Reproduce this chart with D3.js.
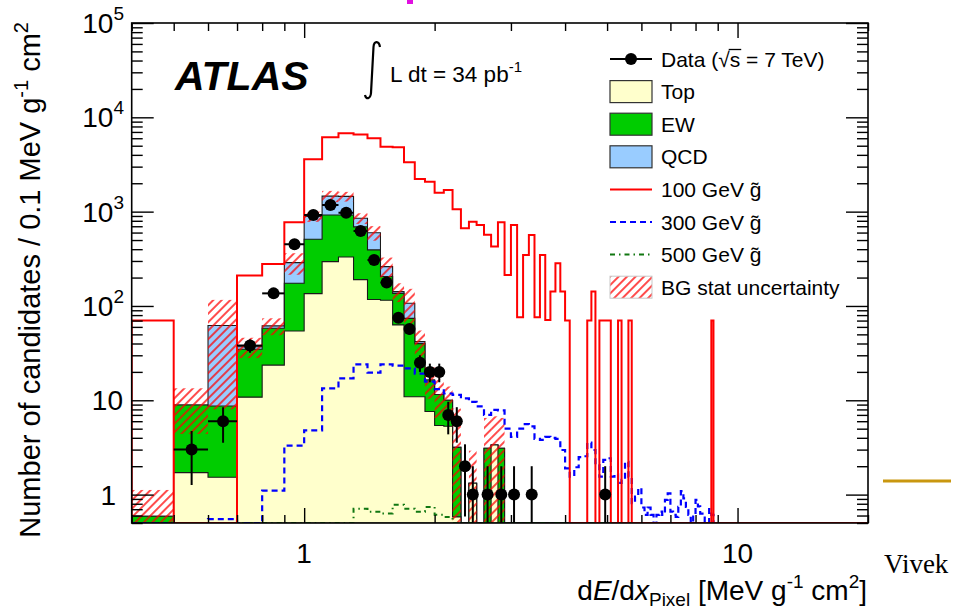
<!DOCTYPE html>
<html>
<head>
<meta charset="utf-8">
<script src="https://cdn.jsdelivr.net/npm/d3@7"></script>
<style>
  body { margin: 0; background: #fff; }
  text { font-family: "Liberation Sans", Arial, Helvetica, sans-serif; fill: #000; }
</style>
</head>
<body>
<svg id="chart" width="956" height="613"></svg>
<script>
// Histogram binning: 0.1 MeV g^-1 cm^2 bins starting at 0.4
const binStart = 0.4;
const binWidth = 0.1;
const xDomain = [0.4, 20];
const yDomain = [0.5, 1e5];

// Stacked backgrounds (per-bin contributions, bins from 0.4 upward)
const topBG = [0, 1.71, 1.53, 10.8, 23.6, 54.3, 135, 295, 330, 190, 117, 115, 63, 10.9, 10.9, 7.6, 5.4, 5.3, 0.58, 0, 1.32, 0, 0, 3.36, 0];
const ewBG  = [0.59, 7.19, 7.17, 23.9, 34.4, 120, 375, 627, 592, 500, 276, 90, 73, 63, 29, 8.8, 6.1, 4.7, 2.59, 0, 0, 0, 3.1, 0, 3.1];
const qcdBG = [0, 0, 53.3, 2.3, 3.5, 114, 380, 538, 528, 161, 204, 56, 6, 33, 2, 0, 0, 0, 0, 0, 0, 0, 0, 0, 0];
// Statistical uncertainty on the total background
const bgErr = [0.53, 4.5, 54, 9, 12.5, 74, 110, 200, 170, 110, 105, 65, 32, 45, 13, 6, 5, 4, 5, 0, 1.6, 0, 3.4, 3.4, 3.4];

// Gluino R-hadron signal samples
const gluino100 = [70, 0, 0, 210, 278, 772, 3600, 6150, 6780, 6560, 6000, 4890, 4820, 3340, 2220, 2080, 1590, 1700, 1060, 667,
  783, 723, 570, 426, 772, 213, 723, 76, 347, 566, 76, 347, 71, 142, 284, 142, 70, 0, 0, 0,
  0, 70, 142, 0, 70, 70, 70, 0, 0, 70, 0, 0, 70, 0, 0, 0, 0, 0, 0, 0,
  0, 0, 0, 0, 0, 0, 0, 0, 0, 0, 0, 0, 0, 0, 0, 0, 0, 0, 0, 0,
  0, 0, 0, 70];
const gluino300 = [0, 0, 0.55, 0, 1.1, 3.3, 4.8, 13.4, 17.1, 24, 19.6, 24, 23.3, 21.8, 19.2, 15.8, 13.1, 11.8, 11.4, 10.5,
  9.6, 8.6, 7.0, 7.9, 7.8, 5.0, 4.1, 5.0, 5.6, 5.3, 3.9, 3.8, 4.1, 4.0, 3.9, 2.97, 1.9, 1.55, 1.95, 2.5,
  2.55, 3.55, 2.97, 2.06, 1.55, 2.33, 2.43, 1.55, 1.64, 1.33, 1.43, 2.23, 1.55, 0.81, 0.95, 1.17, 0.73, 0.61, 0.73, 0.61,
  0, 0.61, 0.66, 0.61, 0.88, 1.03, 0.66, 0.61, 0.58, 0.74, 1.09, 0.91, 0.74, 0.61, 0, 0.61, 0.88, 0.75, 0.63, 0.57,
  0, 0, 0.7, 0.61];
const gluino500 = [0, 0, 0, 0, 0, 0, 0, 0, 0, 0.71, 0.66, 0.63, 0.78, 0.71, 0.66, 0.74, 0.61, 0.58, 0];

// Observed candidates per bin
const dataCounts = [0, 3, 6, 38, 136, 451, 920, 1175, 976, 624, 307, 177, 75, 57, 25, 20, 20, 7, 6, 2,
  1, 0, 1, 0, 1, 0, 1, 0, 0, 1, 0, 0, 0, 0, 0, 0, 0, 0, 0, 0,
  0, 0, 0, 0, 0, 1];

// Axis labels
const xTickLabels = [{ v: 1, t: "1" }, { v: 10, t: "10" }];
const yTickLabels = [
  { v: 1, base: "1", exp: "" }, { v: 10, base: "10", exp: "" }, { v: 100, base: "10", exp: "2" },
  { v: 1000, base: "10", exp: "3" }, { v: 1e4, base: "10", exp: "4" }, { v: 1e5, base: "10", exp: "5" }
];
const legendItems = [
  { kind: "data", label: "Data" },
  { kind: "box", label: "Top", fill: "#ffffcc" },
  { kind: "box", label: "EW", fill: "#00cc00" },
  { kind: "box", label: "QCD", fill: "#99ccff" },
  { kind: "line", label: "100 GeV g\u0303", color: "#ff0000", dash: null },
  { kind: "line", label: "300 GeV g\u0303", color: "#0000ff", dash: "6,4" },
  { kind: "line", label: "500 GeV g\u0303", color: "#117711", dash: "5,4,1.5,4" },
  { kind: "hatch", label: "BG stat uncertainty" }
];

const plot = { left: 131.7, right: 868, top: 23, bottom: 523 };
const svg = d3.select("#chart");
const x = d3.scaleLog().domain(xDomain).range([plot.left, plot.right]);
const y = d3.scaleLog().domain(yDomain).range([plot.bottom, plot.top]);

const defs = svg.append("defs");
defs.append("clipPath").attr("id", "plotClip")
  .append("rect").attr("x", plot.left).attr("y", plot.top)
  .attr("width", plot.right - plot.left).attr("height", plot.bottom - plot.top);
const hatch = defs.append("pattern").attr("id", "hatch")
  .attr("patternUnits", "userSpaceOnUse").attr("width", 6).attr("height", 6)
  .attr("patternTransform", "rotate(45)");
hatch.append("line").attr("x1", 3).attr("y1", 0).attr("x2", 3).attr("y2", 6)
  .attr("stroke", "#ff0000").attr("stroke-width", 1.4);

svg.append("rect").attr("width", 956).attr("height", 613).attr("fill", "#fff");

const binLo = i => binStart + i * binWidth;
const binHi = i => binStart + (i + 1) * binWidth;
const yv = v => y(Math.max(v, yDomain[0]));

// Step outline of a histogram, starting and ending on the lower frame edge
function stepPoints(vals) {
  const pts = [[x(binLo(0)), y(yDomain[0])]];
  vals.forEach((v, i) => {
    pts.push([x(binLo(i)), yv(v)], [x(binHi(i)), yv(v)]);
  });
  pts.push([x(binHi(vals.length - 1)), y(yDomain[0])], [x(xDomain[1]), y(yDomain[0])]);
  return pts;
}
const line = d3.line();

const g = svg.append("g").attr("clip-path", "url(#plotClip)");

// Stacked backgrounds: total first, then lower layers on top of it
const cumEW = topBG.map((t, i) => t + ewBG[i]);
const cumAll = cumEW.map((c, i) => c + qcdBG[i]);
[[cumAll, "#99ccff"], [cumEW, "#00cc00"], [topBG, "#ffffcc"]].forEach(([vals, col]) => {
  g.append("path").attr("d", line(stepPoints(vals)) + "Z")
    .attr("fill", col).attr("stroke", "#1a1a1a").attr("stroke-width", 1.1);
});

// Background statistical uncertainty band
g.append("g").selectAll("rect")
  .data(cumAll.map((c, i) => ({ c, e: bgErr[i], i })).filter(d => d.e > 0))
  .join("rect")
  .attr("x", d => x(binLo(d.i)))
  .attr("width", d => x(binHi(d.i)) - x(binLo(d.i)))
  .attr("y", d => y(d.c + d.e))
  .attr("height", d => yv(d.c - d.e) - y(d.c + d.e))
  .attr("fill", "url(#hatch)");

// Signal histograms
g.append("path").attr("d", line(stepPoints(gluino500)))
  .attr("fill", "none").attr("stroke", "#117711").attr("stroke-width", 2).attr("stroke-dasharray", "5,4,1.5,4");
g.append("path").attr("d", line(stepPoints(gluino300)))
  .attr("fill", "none").attr("stroke", "#0000ff").attr("stroke-width", 2.2).attr("stroke-dasharray", "6,4");
g.append("path").attr("d", line(stepPoints(gluino100)))
  .attr("fill", "none").attr("stroke", "#ff0000").attr("stroke-width", 2);

// Data with Poisson errors and bin-width bars
const pts = dataCounts.map((n, i) => ({ n, i })).filter(d => d.n > 0);
const dg = g.append("g").attr("stroke", "#000").attr("stroke-width", 2);
pts.forEach(d => {
  const cx = x(binLo(d.i) + binWidth / 2), cy = y(d.n), s = Math.sqrt(d.n);
  dg.append("line").attr("x1", cx).attr("x2", cx).attr("y1", y(d.n + s)).attr("y2", yv(d.n - s));
  dg.append("line").attr("x1", x(binLo(d.i))).attr("x2", x(binHi(d.i))).attr("y1", cy).attr("y2", cy);
});
g.append("g").selectAll("circle").data(pts).join("circle")
  .attr("cx", d => x(binLo(d.i) + binWidth / 2)).attr("cy", d => y(d.n)).attr("r", 6).attr("fill", "#000");

// Frame and inward ticks on all four sides
const isMajor = v => Math.abs(Math.log10(v) - Math.round(Math.log10(v))) < 1e-9;
const xt = x.ticks(), ytk = y.ticks();
const axes = svg.append("g");
function addAxis(axisFn, scale, vals, size, transform) {
  const a = axes.append("g").attr("transform", transform)
    .call(axisFn(scale).tickValues(vals).tickSize(size).tickSizeOuter(0).tickFormat(""));
  a.select(".domain").remove();
  a.selectAll("line").attr("stroke", "#000").attr("stroke-width", 1.4);
}
addAxis(d3.axisBottom, x, xt.filter(v => !isMajor(v)), -8, `translate(0,${plot.bottom})`);
addAxis(d3.axisBottom, x, xt.filter(isMajor), -15, `translate(0,${plot.bottom})`);
addAxis(d3.axisTop, x, xt.filter(v => !isMajor(v)), -8, `translate(0,${plot.top})`);
addAxis(d3.axisTop, x, xt.filter(isMajor), -15, `translate(0,${plot.top})`);
addAxis(d3.axisLeft, y, ytk.filter(v => !isMajor(v)), -11, `translate(${plot.left},0)`);
addAxis(d3.axisLeft, y, ytk.filter(isMajor), -22, `translate(${plot.left},0)`);
addAxis(d3.axisRight, y, ytk.filter(v => !isMajor(v)), -11, `translate(${plot.right},0)`);
addAxis(d3.axisRight, y, ytk.filter(isMajor), -22, `translate(${plot.right},0)`);
svg.append("rect").attr("x", plot.left).attr("y", plot.top)
  .attr("width", plot.right - plot.left).attr("height", plot.bottom - plot.top)
  .attr("fill", "none").attr("stroke", "#000").attr("stroke-width", 1.6);

// Tick labels
xTickLabels.forEach(d => {
  svg.append("text").attr("x", x(d.v)).attr("y", 563).attr("text-anchor", "middle")
    .attr("font-size", 28).text(d.t);
});
yTickLabels.forEach(d => {
  const t = svg.append("text").attr("x", d.exp ? 124 : (d.base === "1" ? 116 : 123)).attr("y", y(d.v) + 10)
    .attr("text-anchor", "end").attr("font-size", 28);
  t.append("tspan").text(d.base);
  if (d.exp) t.append("tspan").attr("font-size", 19).attr("dy", -13).text(d.exp);
});

// Axis titles
const xt1 = svg.append("text").attr("x", 867).attr("y", 600).attr("text-anchor", "end").attr("font-size", 28);
xt1.append("tspan").text("d");
xt1.append("tspan").attr("font-style", "italic").text("E");
xt1.append("tspan").text("/d");
xt1.append("tspan").attr("font-style", "italic").text("x");
xt1.append("tspan").attr("font-size", 19).attr("dy", 6).text("Pixel");
xt1.append("tspan").attr("dy", -6).text(" [MeV g");
xt1.append("tspan").attr("font-size", 19).attr("dy", -12).text("-1");
xt1.append("tspan").attr("dy", 12).text(" cm");
xt1.append("tspan").attr("font-size", 19).attr("dy", -12).text("2");
xt1.append("tspan").attr("dy", 12).text("]");

const yt1 = svg.append("text").attr("transform", "translate(40,22) rotate(-90)")
  .attr("text-anchor", "end").attr("font-size", 29);
yt1.append("tspan").text("Number of candidates / 0.1 MeV g");
yt1.append("tspan").attr("font-size", 20).attr("dy", -12).text("-1");
yt1.append("tspan").attr("dy", 12).text(" cm");
yt1.append("tspan").attr("font-size", 20).attr("dy", -12).text("2");

// ATLAS label and luminosity
svg.append("text").attr("x", 175).attr("y", 90).attr("font-size", 41)
  .attr("font-weight", "bold").attr("font-style", "italic").text("ATLAS");
svg.append("path").attr("d", "M380,47 C379,41 374,40 373.5,47 L371,93 C370.5,99 366,100 365,95")
  .attr("fill", "none").attr("stroke", "#000").attr("stroke-width", 2.2);
const lumi = svg.append("text").attr("x", 390).attr("y", 82).attr("font-size", 22.5);
lumi.append("tspan").text("L dt = 34 pb");
lumi.append("tspan").attr("font-size", 15).attr("dy", -10).text("-1");

// Legend
const lg = svg.append("g");
legendItems.forEach((d, i) => {
  const cy = 59 + 32.6 * i;
  const x0 = 610, x1 = 652;
  if (d.kind === "data") {
    lg.append("line").attr("x1", x0).attr("x2", x1).attr("y1", cy).attr("y2", cy).attr("stroke", "#000").attr("stroke-width", 2);
    lg.append("circle").attr("cx", (x0 + x1) / 2).attr("cy", cy).attr("r", 6).attr("fill", "#000");
  } else if (d.kind === "box") {
    lg.append("rect").attr("x", x0).attr("y", cy - 11).attr("width", x1 - x0).attr("height", 22)
      .attr("fill", d.fill).attr("stroke", "#333").attr("stroke-width", 1.2);
  } else if (d.kind === "line") {
    lg.append("line").attr("x1", x0).attr("x2", x1).attr("y1", cy).attr("y2", cy)
      .attr("stroke", d.color).attr("stroke-width", 2).attr("stroke-dasharray", d.dash);
  } else {
    lg.append("rect").attr("x", x0).attr("y", cy - 11).attr("width", x1 - x0).attr("height", 22)
      .attr("fill", "url(#hatch)").attr("stroke", "#c8c8c8").attr("stroke-width", 1);
  }
  const t = lg.append("text").attr("x", 661).attr("y", cy + 7.5).attr("font-size", 21);
  if (d.kind === "data") {
    t.append("tspan").text("Data (");
    t.append("tspan").text("\u221A");
    t.append("tspan").text("s");
    t.append("tspan").text(" = 7 TeV)");
    const n = "Data (\u221A".length;
    const ext = t.node().getExtentOfChar(n);
    const sq = t.node().getExtentOfChar(n - 1);
    lg.append("line").attr("x1", sq.x + sq.width - 1).attr("x2", ext.x + ext.width + 1)
      .attr("y1", sq.y + 2).attr("y2", sq.y + 2).attr("stroke", "#000").attr("stroke-width", 1.3);
  } else {
    t.text(d.label);
  }
});

// Slide decorations around the figure
svg.append("rect").attr("x", 407).attr("y", 0).attr("width", 6).attr("height", 4).attr("fill", "#e010e0");
svg.append("line").attr("x1", 883).attr("x2", 951).attr("y1", 481).attr("y2", 481)
  .attr("stroke", "#c9970f").attr("stroke-width", 3);
svg.append("text").attr("x", 884).attr("y", 573).attr("font-size", 27)
  .style("font-family", "'Liberation Serif', 'Times New Roman', serif").attr("fill", "#333").text("Vivek");
</script>
</body>
</html>
